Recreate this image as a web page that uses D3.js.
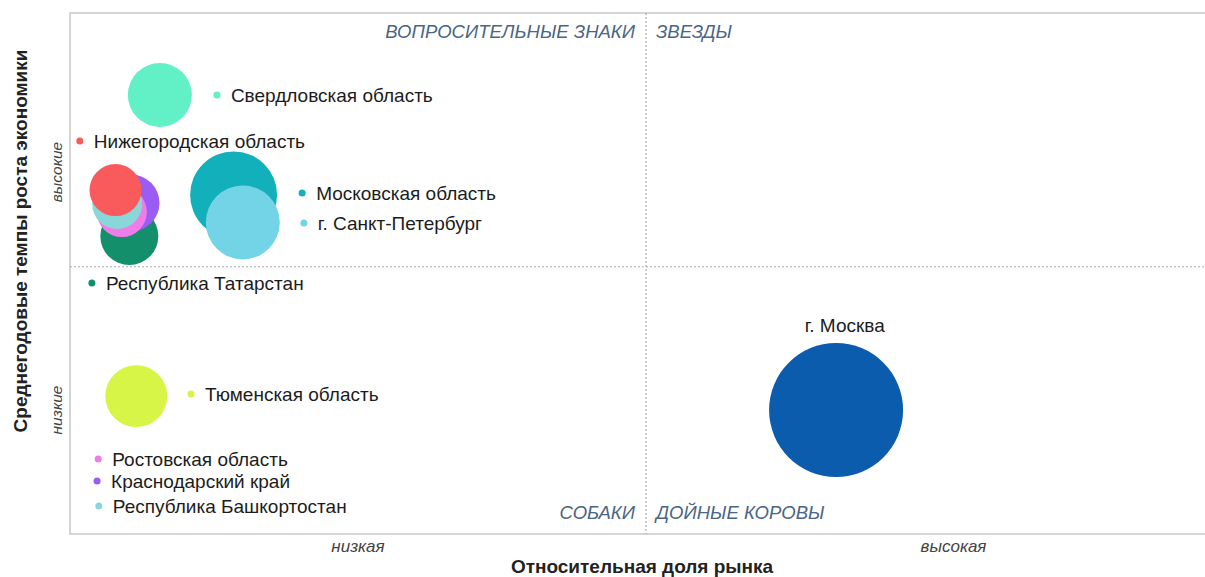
<!DOCTYPE html>
<html><head><meta charset="utf-8">
<script src="https://cdn.jsdelivr.net/npm/d3@7"></script>
<style>
html,body{margin:0;padding:0;background:#fff;}
svg{display:block;font-family:"Liberation Sans",Arial,sans-serif;}
</style></head>
<body>
<svg id="chart" width="1205" height="577"></svg>
<script>
// ---- data ----
const regions = ["Республика Татарстан","Краснодарский край","Ростовская область","Республика Башкортостан","Нижегородская область","Свердловская область","Московская область","г. Санкт-Петербург","Тюменская область","г. Москва"];
const marketShare = [0.103,0.106,0.090,0.082,0.079,0.156,0.284,0.300,0.115,1.330];
const growthRate  = [1.115,1.239,1.205,1.235,1.287,1.643,1.269,1.166,0.516,0.464];
const bubbleSize  = [2.81,2.70,2.09,2.09,2.26,3.42,6.32,4.57,3.21,15.0];
const colors = ["#13906b","#9a5cf2","#ef7ce9","#8ad7da","#f95b5d","#62f0c6","#12b0ba","#72d4e6","#d6f546","#0c5cae"];
// label anchors (in data units)
const labelShare  = [0.038,0.047,0.049,0.050,0.017,0.255,0.403,0.406,0.210,1.345];
const labelGrowth = [0.939,0.198,0.281,0.105,1.471,1.643,1.276,1.164,0.524,0.782];
const labelDot    = [true,true,true,true,true,true,true,true,true,false];
const quadrants = ["ВОПРОСИТЕЛЬНЫЕ ЗНАКИ","ЗВЕЗДЫ","СОБАКИ","ДОЙНЫЕ КОРОВЫ"];
const xTicks = ["низкая","высокая"];
const yTicks = ["низкие","высокие"];
const xTitle = "Относительная доля рынка";
const yTitle = "Среднегодовые темпы роста экономики";
const threshold = 1;

// ---- layout ----
const svg = d3.select("#chart");
const L = 70, T = 13, B = 534, R = 1261;
const x = d3.scaleLinear().domain([0, (R - L) / 576]).range([L, R]);
const y = d3.scaleLinear().domain([0, (B - T) / 267.2]).range([B, T]);
const r = d3.scaleSqrt().domain([0, 15]).range([0, 67]);

// frame
svg.append("rect").attr("x", L).attr("y", T).attr("width", R - L).attr("height", B - T)
  .attr("fill", "none").attr("stroke", "#c8c8c8").attr("stroke-width", 1.5);
// mid lines
svg.append("line").attr("x1", x(threshold)).attr("x2", x(threshold)).attr("y1", T).attr("y2", B)
  .attr("stroke", "#9a9a9a").attr("stroke-width", 1).attr("stroke-dasharray", "2,2");
svg.append("line").attr("x1", L).attr("x2", R).attr("y1", y(threshold)).attr("y2", y(threshold))
  .attr("stroke", "#b0a8ac").attr("stroke-width", 1).attr("stroke-dasharray", "2,2");

// quadrant labels
const qStyle = s => s.attr("font-style", "italic").attr("font-size", 18.5).attr("fill", "#4a6585");
svg.append("text").text(quadrants[0]).attr("x", x(threshold) - 11).attr("y", 38).attr("text-anchor", "end").call(qStyle);
svg.append("text").text(quadrants[1]).attr("x", x(threshold) + 10).attr("y", 38).attr("text-anchor", "start").call(qStyle);
svg.append("text").text(quadrants[2]).attr("x", x(threshold) - 11).attr("y", 519).attr("text-anchor", "end").call(qStyle);
svg.append("text").text(quadrants[3]).attr("x", x(threshold) + 10).attr("y", 519).attr("text-anchor", "start").call(qStyle);

// axis tick labels
const tStyle = s => s.attr("font-style", "italic").attr("fill", "#444").attr("text-anchor", "middle");
svg.append("text").text(xTicks[0]).attr("x", (L + x(threshold)) / 2).attr("y", 552).attr("font-size", 17).call(tStyle);
svg.append("text").text(xTicks[1]).attr("x", (x(threshold) + R) / 2).attr("y", 552).attr("font-size", 17).call(tStyle);
svg.append("text").text(yTicks[0]).attr("transform", `translate(62,410) rotate(-90)`).attr("font-size", 15.5).call(tStyle);
svg.append("text").text(yTicks[1]).attr("transform", `translate(62,172) rotate(-90)`).attr("font-size", 15.5).call(tStyle);

// axis titles
svg.append("text").text(xTitle).attr("x", 642).attr("y", 573).attr("text-anchor", "middle")
  .attr("font-weight", "bold").attr("font-size", 19).attr("fill", "#222");
svg.append("text").text(yTitle).attr("transform", `translate(27,241) rotate(-90)`).attr("text-anchor", "middle")
  .attr("font-weight", "bold").attr("font-size", 19).attr("fill", "#222");

// bubbles
const idx = d3.range(regions.length);
svg.append("g").selectAll("circle").data(idx).join("circle")
  .attr("cx", i => x(marketShare[i])).attr("cy", i => y(growthRate[i]))
  .attr("r", i => r(bubbleSize[i])).attr("fill", i => colors[i]);

// labels
const lg = svg.append("g").selectAll("g").data(idx).join("g")
  .attr("transform", i => `translate(${x(labelShare[i])},${y(labelGrowth[i])})`);
lg.filter(i => labelDot[i]).append("circle").attr("r", 3.5).attr("fill", i => colors[i]);
lg.append("text").text(i => regions[i])
  .attr("x", i => labelDot[i] ? 14 : 0).attr("dy", "0.36em")
  .attr("text-anchor", i => labelDot[i] ? "start" : "middle")
  .attr("font-size", 19).attr("fill", "#1c1c1c");
</script>
</body></html>
